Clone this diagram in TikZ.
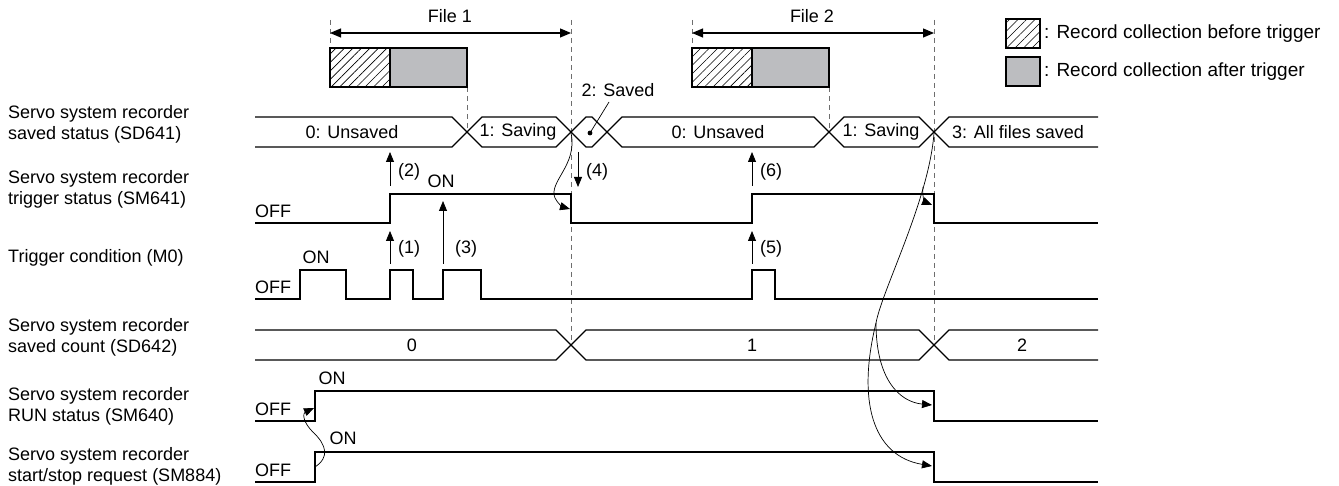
\documentclass[tikz,border=0pt]{standalone}
\usepackage{fontspec}
\setmainfont{Liberation Sans}
\usepackage{tikz}
\usetikzlibrary{arrows.meta,patterns.meta}

\definecolor{aftergray}{RGB}{188,189,192}
\definecolor{guidegray}{RGB}{110,110,110}

% one closed bus segment: #1 = top y, #2 = left crossing, #3 = right crossing
\newcommand{\busseg}[3]{%
  \draw[sig] (#2,#1+15) -- (#2+15,#1) -- (#3-15,#1) -- (#3,#1+15)
    -- (#3-15,#1+30) -- (#2+15,#1+30) -- cycle;}

\tikzset{
  sig/.style={line width=1.2pt,line join=miter},
  guide/.style={guidegray,line width=0.9pt,dash pattern=on 5pt off 4pt},
  prebox/.style={draw,line width=1.2pt,
    pattern={Lines[angle=45,distance=6pt,line width=0.6pt]}},
  postbox/.style={draw,line width=1.2pt,fill=aftergray},
  cause/.style={line width=0.8pt,-{Triangle[length=10pt,width=8pt]}},
  link/.style={line width=0.7pt,-{Triangle[length=10pt,width=8pt]}},
  rowname/.style={anchor=west,align=left,font=\fontsize{18}{21}\selectfont},
  lvl/.style={anchor=west},
  legtext/.style={anchor=west,font=\fontsize{19}{22}\selectfont},
}

\begin{document}
\begin{tikzpicture}[x=1pt,y=-1pt,
  every node/.style={font=\fontsize{18}{21}\selectfont,inner sep=0pt}]
  \useasboundingbox (0,0) rectangle (1339,486);

  % row names
  \node[rowname] (n641) at (8,124) {Servo system recorder\\saved status (SD641)};
  \node[rowname] (n641t) at (8,189) {Servo system recorder\\trigger status (SM641)};
  \node[rowname] (nm0) at (8,258) {Trigger condition (M0)};
  \node[rowname] (n642) at (8,337) {Servo system recorder\\saved count (SD642)};
  \node[rowname] (n640) at (8,406) {Servo system recorder\\RUN status (SM640)};
  \node[rowname] (n884) at (8,466) {Servo system recorder\\start/stop request (SM884)};

  % dashed guides
  \draw[guide] (330,20) -- (330,48);
  \draw[guide] (692,20) -- (692,48);
  \draw[guide] (571,20) -- (571,345);
  \draw[guide] (934,20) -- (934,345);
  \draw[guide] (467,87) -- (467,132);
  \draw[guide] (829,87) -- (829,132);

  % file spans
  \coordinate (f1a) at (330,33); \coordinate (f1b) at (571,33);
  \coordinate (f2a) at (692,33); \coordinate (f2b) at (934,33);
  \draw[line width=1.2pt,{Triangle[length=11pt,width=9pt]}-{Triangle[length=11pt,width=9pt]}] (f1a) -- (f1b);
  \draw[line width=1.2pt,{Triangle[length=11pt,width=9pt]}-{Triangle[length=11pt,width=9pt]}] (f2a) -- (f2b);
  \node (file1) at (450,16) {File 1};
  \node (file2) at (812,16) {File 2};
  \draw[prebox] (330,48) rectangle (390,87);
  \draw[postbox] (390,48) rectangle (467,87);
  \draw[prebox] (692,48) rectangle (752,87);
  \draw[postbox] (752,48) rectangle (829,87);

  % legend
  \draw[prebox] (1006,19) rectangle (1040,48);
  \draw[postbox] (1006,57) rectangle (1040,86);
  \node[legtext] (legpre) at (1044,34) {: Record collection before trigger};
  \node[legtext] (legpost) at (1044,72) {: Record collection after trigger};

  % SD641 saved status
  \draw[sig] (255,117) -- (452,117) -- (467,132) -- (452,147) -- (255,147);
  \busseg{117}{467}{571}
  \busseg{117}{571}{607}
  \busseg{117}{607}{829}
  \busseg{117}{829}{934}
  \draw[sig] (1098,117) -- (949,117) -- (934,132) -- (949,147) -- (1098,147);
  \node (s0a) at (352,132) {0: Unsaved};
  \node (s1a) at (518,132) {1: Saving};
  \node (s0b) at (718,132) {0: Unsaved};
  \node (s1b) at (881,132) {1: Saving};
  \node (s3) at (1018,132) {3: All files saved};
  \fill (590,133) circle (2.4);
  \node (s2) at (618,90) {2: Saved};
  \draw[line width=0.7pt] (590,133) -- (609,102);

  % SM641 trigger status
  \draw[sig] (255,223) -- (390,223) -- (390,194) -- (571,194) -- (571,223)
    -- (752,223) -- (752,194) -- (934,194) -- (934,223) -- (1098,223);
  \node[lvl] (t641off) at (255,211) {OFF};
  \node (t641on) at (441,181) {ON};

  % M0 trigger condition
  \draw[sig] (255,299) -- (300,299) -- (300,270) -- (346,270) -- (346,299)
    -- (390,299) -- (390,270) -- (413,270) -- (413,299)
    -- (443,299) -- (443,270) -- (481,270) -- (481,299)
    -- (752,299) -- (752,270) -- (775,270) -- (775,299) -- (1098,299);
  \node[lvl] (m0off) at (255,287) {OFF};
  \node (m0on) at (316,257) {ON};

  % SD642 saved count
  \draw[sig] (255,330) -- (556,330) -- (571,345) -- (556,360) -- (255,360);
  \busseg{330}{571}{934}
  \draw[sig] (1098,330) -- (949,330) -- (934,345) -- (949,360) -- (1098,360);
  \node (c0) at (412,345) {0};
  \node (c1) at (752,345) {1};
  \node (c2) at (1022,345) {2};

  % SM640 RUN status
  \draw[sig] (255,421) -- (315,421) -- (315,391) -- (934,391) -- (934,421) -- (1098,421);
  \node[lvl] (r640off) at (255,409) {OFF};
  \node (r640on) at (332,378) {ON};

  % SM884 start/stop request
  \draw[sig] (255,482) -- (315,482) -- (315,452) -- (934,452) -- (934,482) -- (1098,482);
  \node[lvl] (q884off) at (255,470) {OFF};
  \node (q884on) at (343,438) {ON};

  % numbered causes
  \draw[cause] (390,186) -- (390,152);
  \node[lvl] (k2) at (398,172) {(2)};
  \draw[cause] (578,152) -- (578,187);
  \node[lvl] (k4) at (586,172) {(4)};
  \draw[cause] (752,186) -- (752,152);
  \node[lvl] (k6) at (760,172) {(6)};
  \draw[cause] (390,264) -- (390,231);
  \node[lvl] (k1) at (398,249) {(1)};
  \draw[cause] (443,264) -- (443,201);
  \node[lvl] (k3) at (455,249) {(3)};
  \draw[cause] (752,264) -- (752,231);
  \node[lvl] (k5) at (760,249) {(5)};

  % curved links between edges
  \coordinate (x1) at (571,133);
  \coordinate (e1) at (570,209);
  \draw[link] (x1) .. controls (578,165) and (548,182) .. (555,198)
    .. controls (558,204) and (563,207) .. (e1);
  \coordinate (x2) at (934,133);
  \coordinate (sp) at (876,323);
  \draw[line width=0.7pt] (x2) .. controls (929,200) and (882,290) .. (sp);
  \draw[link] (923,187) .. controls (922,197) and (925,202) .. (932,205);
  \draw[link] (sp) .. controls (876,380) and (900,402) .. (932,405);
  \draw[link] (sp) .. controls (857,400) and (872,456) .. (932,466);
  \coordinate (e884) at (315,467);
  \coordinate (e640) at (314,408);
  \draw[link] (e884) .. controls (330,457) and (326,445) .. (314,433)
    .. controls (302,422) and (303,413) .. (e640);
\end{tikzpicture}
\end{document}
